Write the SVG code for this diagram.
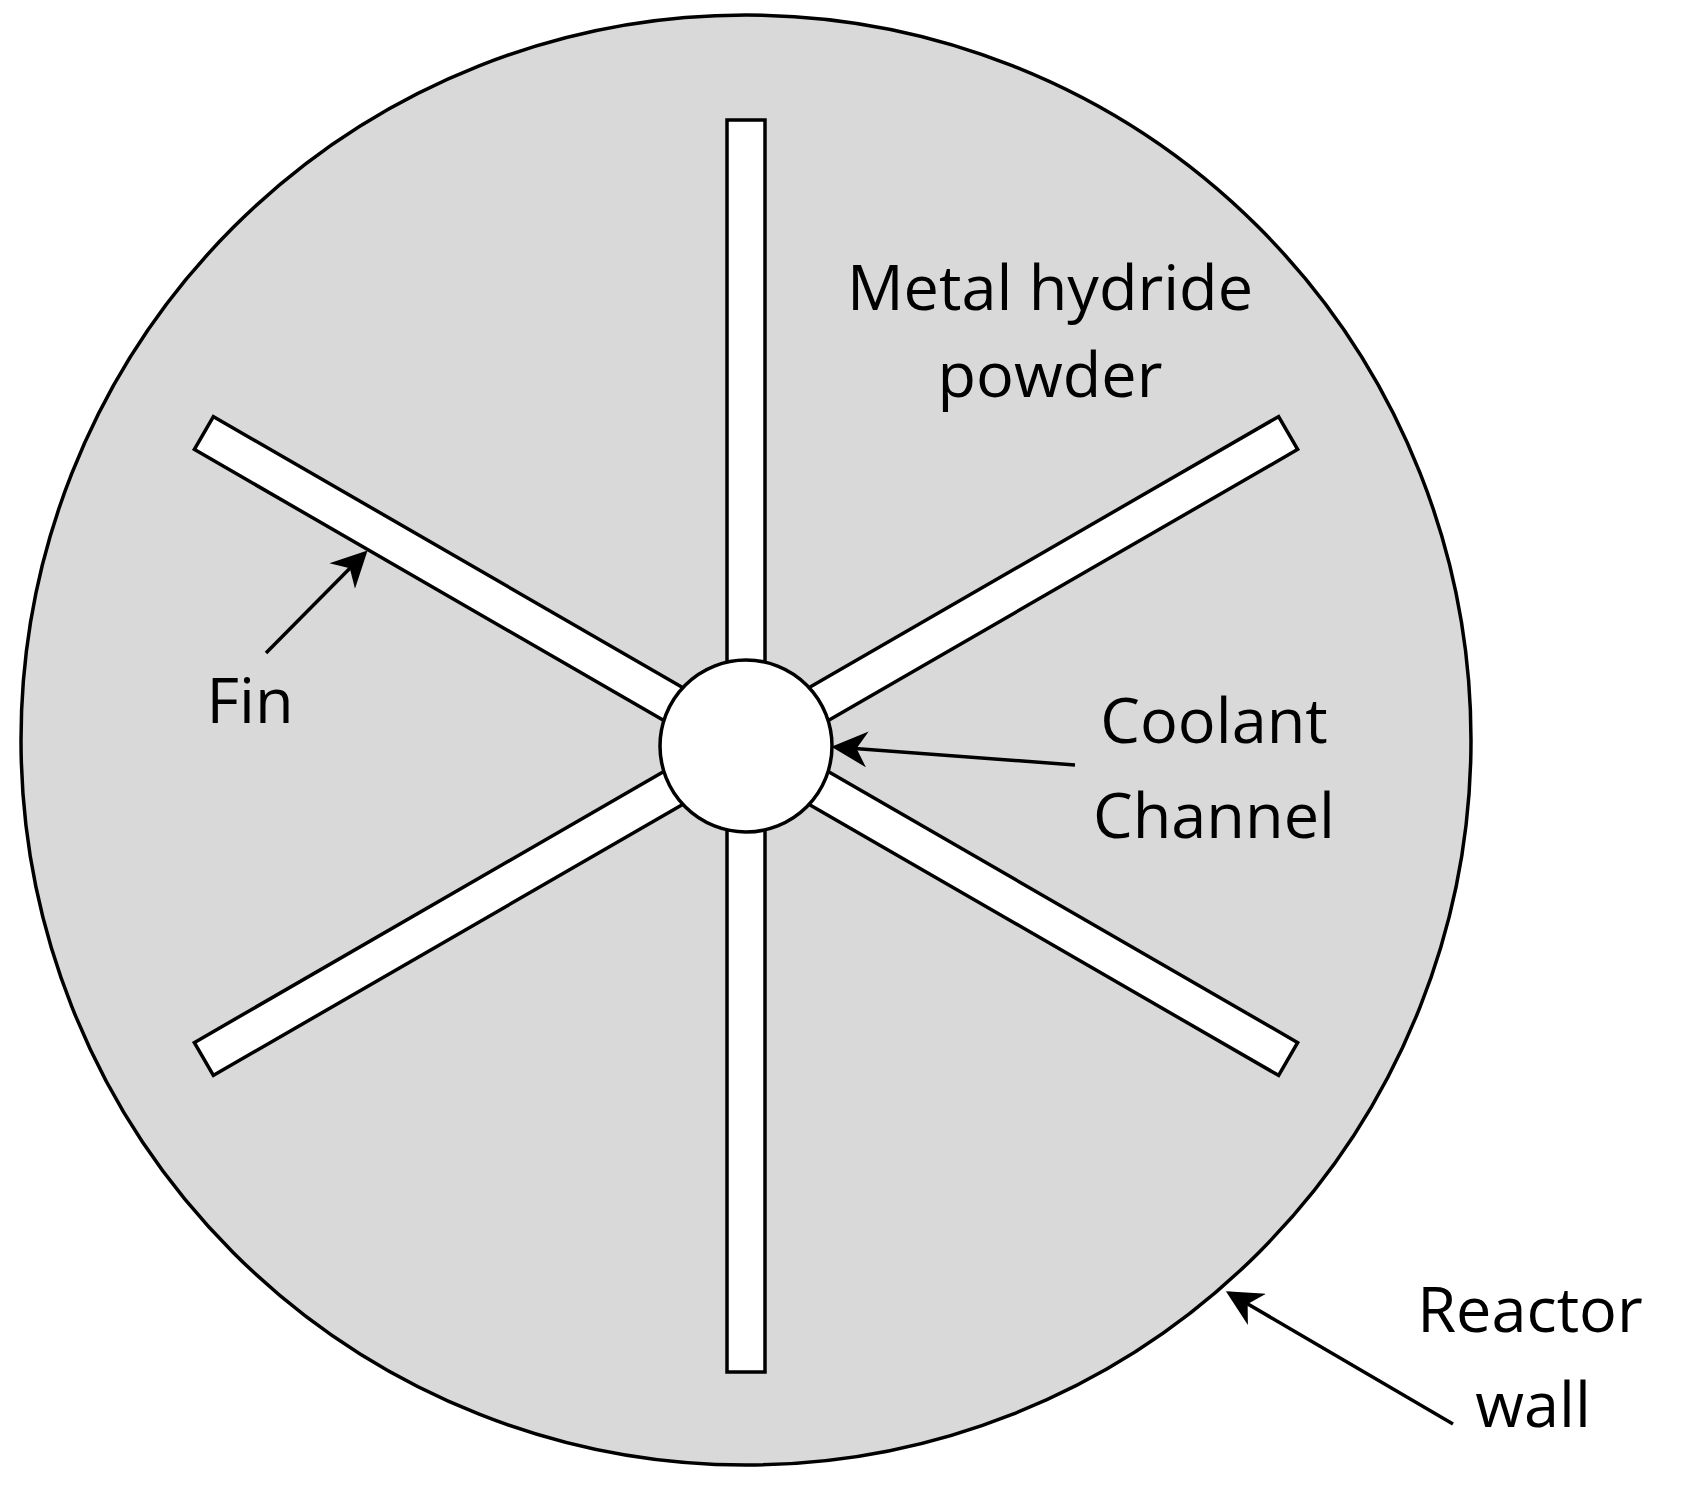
<svg xmlns="http://www.w3.org/2000/svg" width="1698" height="1500" viewBox="0 0 1698 1500">
<defs>
<style>
.fin{fill:#fff;stroke:#000;stroke-width:3.5}
text{font-family:"Open Sans","Liberation Sans",sans-serif;font-size:63px;fill:#000;text-anchor:middle}
.ar{stroke:#000;stroke-width:3.5;fill:none;marker-end:url(#ah)}
</style>
<marker id="ah" viewBox="0 0 10 10" refX="9" refY="5" markerWidth="40" markerHeight="36" markerUnits="userSpaceOnUse" orient="auto">
<path d="M0,0 L10,5 L0,10 L3,5 z" fill="#000"/>
</marker>
</defs>
<rect width="1698" height="1500" fill="#fff"/>
<g transform="translate(-7,0)">
<g id="reactor"><circle cx="753" cy="740" r="725" fill="#d9d9d9" stroke="#000" stroke-width="3.5"/></g>
<g id="fins">
<rect class="fin" x="734" y="120" width="38" height="1252"/>
<rect class="fin" x="734" y="120" width="38" height="1252" transform="rotate(60 753 746)"/>
<rect class="fin" x="734" y="120" width="38" height="1252" transform="rotate(-60 753 746)"/>
</g>
<g id="channel"><circle cx="753" cy="746" r="86" fill="#fff" stroke="#000" stroke-width="3.5"/></g>
<g id="labels">
<text x="1057" y="310">Metal hydride</text>
<text x="1057" y="397">powder</text>
<text x="257" y="723">Fin</text>
<text x="1221" y="743">Coolant</text>
<text x="1221" y="838">Channel</text>
<text x="1537" y="1332">Reactor</text>
<text x="1540" y="1427">wall</text>
</g>
<g id="connectors">
<line class="ar" x1="273" y1="653" x2="372" y2="553"/>
<line class="ar" x1="1082" y1="765" x2="842" y2="747"/>
<line class="ar" x1="1460" y1="1424" x2="1236" y2="1293"/>
</g>
</g>
</svg>
